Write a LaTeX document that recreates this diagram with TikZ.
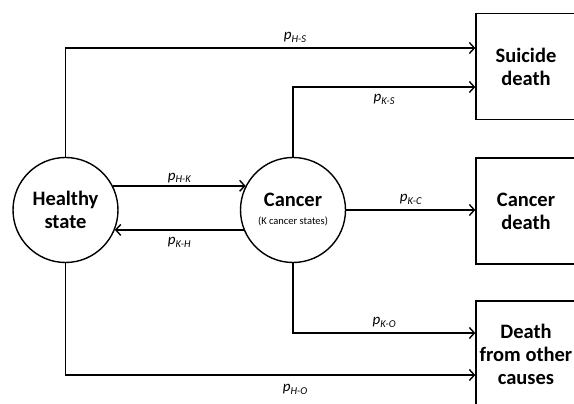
\documentclass[tikz,border=0pt]{standalone}
\usepackage{fontspec}
\setmainfont{Carlito}
\usetikzlibrary{arrows.meta}

\newcommand{\trans}[1]{\textit{p}\raisebox{-0.3ex}{\fontsize{10.5}{10.5}\selectfont\itshape #1}}

\begin{document}
\begin{tikzpicture}[x=1pt, y=1pt, line width=1.4pt,
  state/.style={draw, circle, minimum size=105pt, inner sep=0pt, align=center,
    font=\bfseries\fontsize{20.5}{23}\selectfont},
  absorb/.style={draw, rectangle, minimum width=100pt, minimum height=106pt, inner sep=0pt,
    align=center, font=\bfseries\fontsize{20.5}{23}\selectfont},
  prob/.style={font=\fontsize{15}{15}\selectfont, inner sep=2pt},
  >={Straight Barb[length=5pt,width=11pt]}]
\useasboundingbox (0,0) rectangle (574,404);

\node[state] at (65.5,194) (hs) {Healthy\\state};
\node[state] at (293,194) (ks) {Cancer\\[-5pt]{\mdseries\fontsize{10.5}{12}\selectfont (K cancer states)}};

\node[absorb] at (526,337.5) (sd) {Suicide\\death};
\node[absorb] at (526,193) (cd) {Cancer\\death};
\node[absorb] at (526,50) (od) {Death\\from other\\causes};

\coordinate (sdA) at ([yshift=18.5pt]sd.west);
\coordinate (sdB) at ([yshift=-20.5pt]sd.west);
\coordinate (odA) at ([yshift=21pt]od.west);
\coordinate (odB) at ([yshift=-21pt]od.west);

\draw[->] (hs.north) |- (sdA) node[prob, pos=0.78, above=3pt] {\trans{H-S}};
\draw[->] (ks.north) |- (sdB) node[prob, pos=0.75, below=5pt] {\trans{K-S}};
\draw[->] (hs.27) -- (ks.153) node[prob, midway, above] {\trans{H-K}};
\draw[->] (ks.202.5) -- (hs.-22) node[prob, midway, below=5pt] {\trans{K-H}};
\draw[->] (ks.east) -- (ks -| cd.west) node[prob, midway, above=3pt] {\trans{K-C}};
\draw[->] (ks.south) |- (odA) node[prob, pos=0.75, above=3pt] {\trans{K-O}};
\draw[->] (hs.south) |- (odB) node[prob, pos=0.78, below=7pt] {\trans{H-O}};

\end{tikzpicture}
\end{document}
